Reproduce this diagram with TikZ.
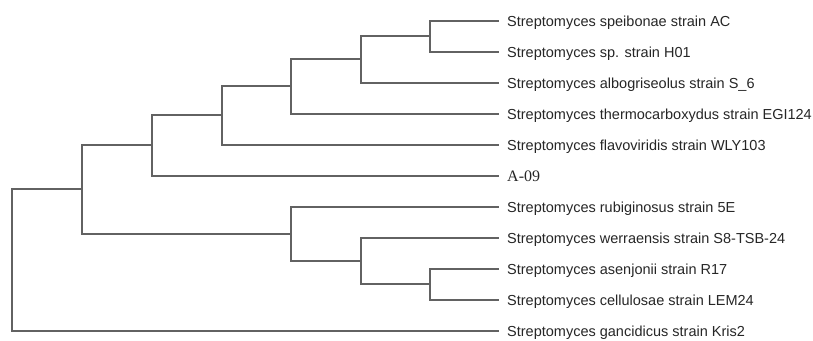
\documentclass[tikz,border=0pt]{standalone}
\usepackage{fontspec}
\setmainfont{Liberation Sans}
\newfontfamily\serifA{Liberation Serif}
\definecolor{branch}{HTML}{626262}
\definecolor{labeltext}{HTML}{262626}
\begin{document}
\begin{tikzpicture}[x=1pt,y=-1pt,
  leaf/.style={anchor=west,inner xsep=0pt,xshift=9pt,inner ysep=0pt,text height=10.4pt,text depth=0pt,
    font=\fontsize{14.5}{15}\selectfont,text=labeltext},
  leafA/.style={leaf,font=\serifA\fontsize{16}{17}\selectfont},
  br/.style={draw=branch,line width=2pt,line cap=rect}]
\useasboundingbox (0,0) rectangle (813,340);
% leaves
\coordinate (t1) at (498,21);   \node[leaf] (l1) at (t1) {Streptomyces speibonae strain AC};
\coordinate (t2) at (498,52);   \node[leaf] (l2) at (t2) {Streptomyces sp. strain H01};
\coordinate (t3) at (498,83);   \node[leaf] (l3) at (t3) {Streptomyces albogriseolus strain S\_6};
\coordinate (t4) at (498,114);  \node[leaf] (l4) at (t4) {Streptomyces thermocarboxydus strain EGI124};
\coordinate (t5) at (498,145);  \node[leaf] (l5) at (t5) {Streptomyces flavoviridis strain WLY103};
\coordinate (t6) at (498,176);  \node[leafA] (l6) at (t6) {A-09};
\coordinate (t7) at (498,207);  \node[leaf] (l7) at (t7) {Streptomyces rubiginosus strain 5E};
\coordinate (t8) at (498,238);  \node[leaf] (l8) at (t8) {Streptomyces werraensis strain S8-TSB-24};
\coordinate (t9) at (498,269);  \node[leaf] (l9) at (t9) {Streptomyces asenjonii strain R17};
\coordinate (t10) at (498,300); \node[leaf] (l10) at (t10) {Streptomyces cellulosae strain LEM24};
\coordinate (t11) at (498,331); \node[leaf] (l11) at (t11) {Streptomyces gancidicus strain Kris2};
% internal nodes
\coordinate (n430) at (430,36);
\coordinate (n361) at (361,59);
\coordinate (n291) at (291,86);
\coordinate (n222) at (222,115);
\coordinate (n152) at (152,145);
\coordinate (n430b) at (430,284);
\coordinate (n361b) at (361,261);
\coordinate (n291b) at (291,234);
\coordinate (n82) at (82,189);
\coordinate (root) at (12,260);
% branches
\draw[br] (n430) |- (t1) (n430) |- (t2);
\draw[br] (n361) |- (n430) (n361) |- (t3);
\draw[br] (n291) |- (n361) (n291) |- (t4);
\draw[br] (n222) |- (n291) (n222) |- (t5);
\draw[br] (n152) |- (n222) (n152) |- (t6);
\draw[br] (n430b) |- (t9) (n430b) |- (t10);
\draw[br] (n361b) |- (t8) (n361b) |- (n430b);
\draw[br] (n291b) |- (t7) (n291b) |- (n361b);
\draw[br] (n82) |- (n152) (n82) |- (n291b);
\draw[br] (root) |- (n82) (root) |- (t11);
\end{tikzpicture}
\end{document}
